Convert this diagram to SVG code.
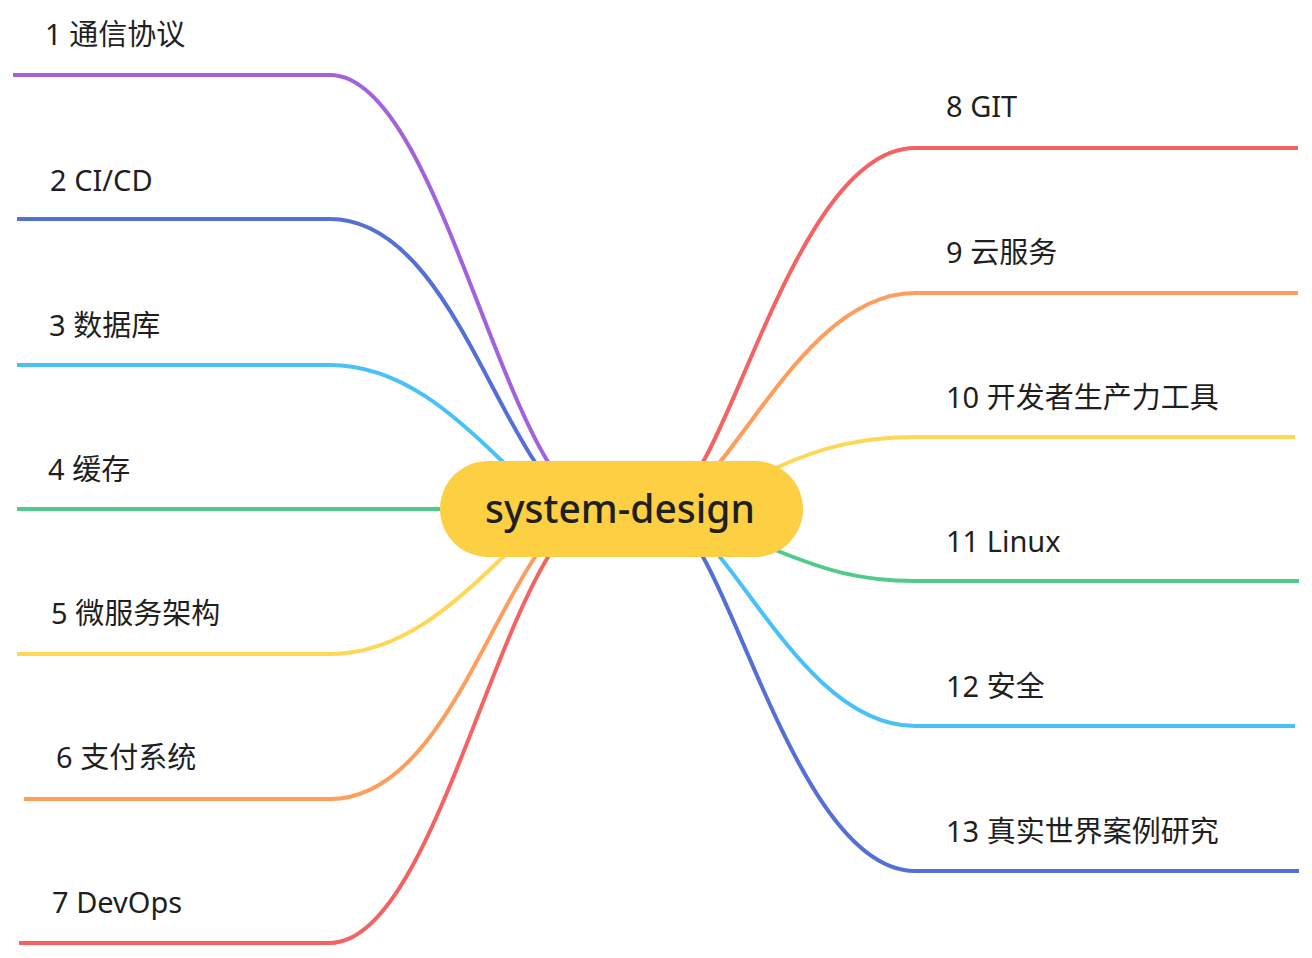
<svg xmlns="http://www.w3.org/2000/svg" width="1312" height="958" viewBox="0 0 1312 958">
<style>
.c{fill:none;stroke-width:4;stroke-linecap:butt}
.t{font-family:"Noto Sans","Noto Sans CJK SC",sans-serif;font-size:29px;fill:#1f1f1f}
.r{font-family:"Noto Sans","Noto Sans CJK SC",sans-serif;font-size:39px;font-weight:500;fill:#1f1f1f;text-anchor:middle}
</style>
<rect width="1312" height="958" fill="#ffffff"/>
<g id="connectors">
<path class="c" stroke="#A262DB" d="M13,75 H330 C420,75 480,350 548,462 L556,474"/>
<path class="c" stroke="#5470D6" d="M17,219 H330 C430,219 480,380 535,462 L543,474"/>
<path class="c" stroke="#48C1FA" d="M17,365 H330 C400,365 455,415 503,462 L515,474"/>
<path class="c" stroke="#50CB8D" d="M17,509 H450"/>
<path class="c" stroke="#FFD655" d="M17,654 H330 C400,654 455,604 503,557 L515,545"/>
<path class="c" stroke="#FF9D5C" d="M24,799 H330 C430,799 480,639 535,557 L543,545"/>
<path class="c" stroke="#F46262" d="M19,943 H330 C420,943 480,669 548,557 L556,545"/>
<path class="c" stroke="#F46262" d="M1298,148 H915 C815,148 750,380 703,462 L697,474"/>
<path class="c" stroke="#FF9D5C" d="M1298,293 H915 C830,293 770,400 720,462 L712,474"/>
<path class="c" stroke="#FFD655" d="M1295,437 H915 C860,437 820,448 778,467 L760,476"/>
<path class="c" stroke="#50CB8D" d="M1299,581 H915 C860,581 825,570 778,551 L760,543"/>
<path class="c" stroke="#48C1FA" d="M1295,726 H915 C830,726 770,619 720,557 L712,545"/>
<path class="c" stroke="#5470D6" d="M1299,871 H915 C815,871 750,639 703,557 L697,545"/>
</g>
<g id="root">
<rect x="440" y="461" width="363" height="96" rx="48" ry="48" fill="#FDD043"/>
<text class="r" x="620" y="523">system-design</text>
</g>
<g id="n1"><text class="t" x="45" y="45">1 通信协议</text></g>
<g id="n2"><text class="t" x="50" y="191">2 CI/CD</text></g>
<g id="n3"><text class="t" x="49" y="336">3 数据库</text></g>
<g id="n4"><text class="t" x="48" y="480">4 缓存</text></g>
<g id="n5"><text class="t" x="51" y="624">5 微服务架构</text></g>
<g id="n6"><text class="t" x="56" y="768">6 支付系统</text></g>
<g id="n7"><text class="t" x="52" y="913">7 DevOps</text></g>
<g id="n8"><text class="t" x="946" y="117">8 GIT</text></g>
<g id="n9"><text class="t" x="946" y="263">9 云服务</text></g>
<g id="n10"><text class="t" x="946" y="408">10 开发者生产力工具</text></g>
<g id="n11"><text class="t" x="946" y="552">11 Linux</text></g>
<g id="n12"><text class="t" x="946" y="697">12 安全</text></g>
<g id="n13"><text class="t" x="946" y="842">13 真实世界案例研究</text></g>
</svg>
